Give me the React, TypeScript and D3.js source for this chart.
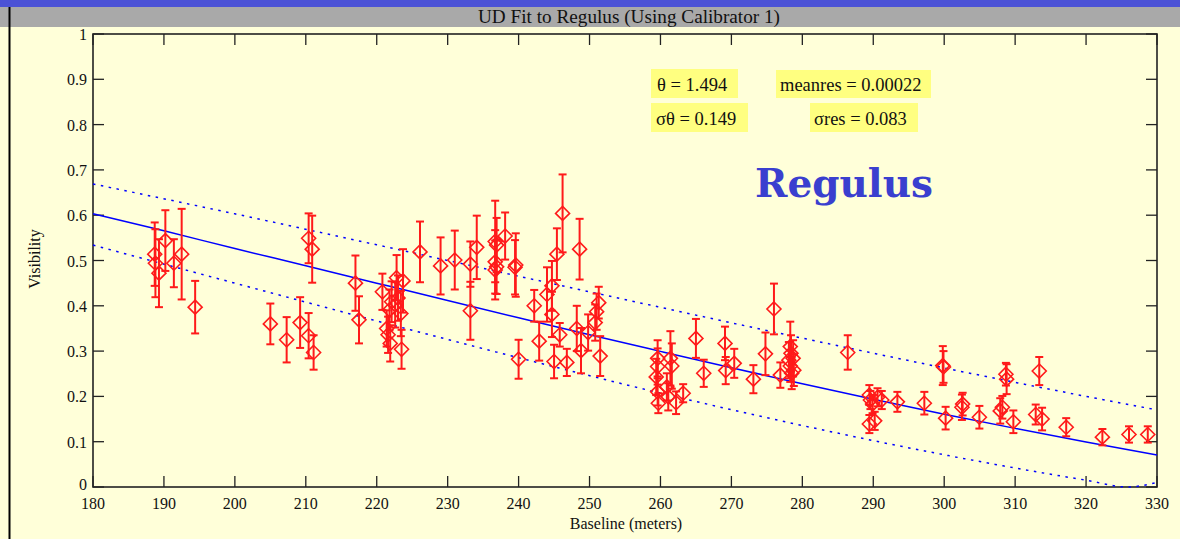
import React from "react";
import * as d3 from "d3";

// measured points: baseline (m), visibility, 1-sigma error
const baseline = [
  188.7, 188.8, 189.3, 190.2, 191.4, 192.5, 194.4,
  205.0, 207.3, 209.2, 210.4, 211.1, 210.4, 210.9,
  217.0, 217.5, 220.8, 221.4, 221.6, 221.8, 221.9, 222.1, 222.6, 222.8, 223.0, 223.4, 223.7, 223.5,
  226.1, 229.0, 231.0, 233.2, 233.2, 234.1, 236.7, 236.9, 236.7, 236.9, 236.7, 238.1, 239.6, 239.5,
  240.0, 242.2, 242.9, 244.0, 244.7, 244.7, 245.0, 245.4, 245.8, 246.2, 246.8, 248.6, 248.2, 248.8,
  249.8, 250.8, 251.0, 251.3, 251.5,
  259.6, 259.6, 259.4, 259.6, 259.7, 261.4, 261.6, 260.9, 261.1, 262.2, 263.2, 265.0, 266.1,
  269.1, 269.2, 270.4, 273.1, 274.8, 276.0, 276.9, 278.3, 278.4, 278.1, 278.7, 278.3, 278.8, 278.5,
  286.4, 289.45, 289.6, 289.9, 290.6, 291.2, 289.45, 290.2, 293.4, 297.2, 299.8, 299.9, 300.2,
  302.5, 302.6, 304.96, 307.9, 308.2, 308.7, 308.8, 309.75, 312.9, 313.8, 313.4, 317.2, 322.3,
  326.05, 328.7,
];
const visibility = [
  0.514, 0.494, 0.472, 0.544, 0.494, 0.514, 0.397,
  0.36, 0.325, 0.363, 0.334, 0.297, 0.549, 0.525,
  0.45, 0.369, 0.431, 0.35, 0.336, 0.391, 0.317, 0.409, 0.402, 0.462, 0.417, 0.383, 0.455, 0.304,
  0.519, 0.488, 0.501, 0.492, 0.389, 0.529, 0.542, 0.534, 0.497, 0.486, 0.479, 0.554, 0.49, 0.485,
  0.282, 0.4, 0.322, 0.425, 0.444, 0.381, 0.277, 0.514, 0.336, 0.604, 0.275, 0.525, 0.35, 0.301,
  0.341, 0.363, 0.387, 0.407, 0.289,
  0.284, 0.266, 0.243, 0.21, 0.185, 0.284, 0.267, 0.221, 0.199, 0.186, 0.207, 0.328, 0.251,
  0.317, 0.257, 0.273, 0.238, 0.294, 0.393, 0.247, 0.31, 0.295, 0.28, 0.284, 0.267, 0.258, 0.251,
  0.297, 0.203, 0.192, 0.183, 0.198, 0.192, 0.139, 0.146, 0.188, 0.185, 0.268, 0.265, 0.152,
  0.176, 0.183, 0.154, 0.168, 0.176, 0.249, 0.238, 0.144, 0.16, 0.15, 0.256, 0.132, 0.11,
  0.116, 0.116,
];
const visErr = [
  0.07, 0.075, 0.075, 0.067, 0.053, 0.1, 0.058,
  0.045, 0.05, 0.056, 0.05, 0.038, 0.055, 0.074,
  0.061, 0.052, 0.04, 0.04, 0.04, 0.045, 0.04, 0.045, 0.05, 0.05, 0.05, 0.05, 0.07, 0.043,
  0.067, 0.063, 0.065, 0.05, 0.064, 0.07, 0.09, 0.06, 0.07, 0.06, 0.065, 0.052, 0.07, 0.06,
  0.043, 0.035, 0.043, 0.06, 0.055, 0.05, 0.037, 0.057, 0.026, 0.086, 0.03, 0.067, 0.05, 0.05,
  0.04, 0.04, 0.04, 0.035, 0.044,
  0.04, 0.04, 0.04, 0.03, 0.022, 0.06, 0.05, 0.03, 0.03, 0.025, 0.02, 0.043, 0.03,
  0.037, 0.03, 0.032, 0.031, 0.047, 0.056, 0.028, 0.055, 0.04, 0.04, 0.04, 0.035, 0.035, 0.035,
  0.038, 0.022, 0.02, 0.02, 0.02, 0.02, 0.02, 0.02, 0.022, 0.025, 0.043, 0.035, 0.025,
  0.028, 0.025, 0.025, 0.028, 0.025, 0.025, 0.033, 0.025, 0.022, 0.025, 0.031, 0.02, 0.018,
  0.018, 0.018,
];

// uniform disk fit and its +/- sigma envelope
const fitB = [180, 190, 200, 210, 220, 230, 240, 250, 260, 270, 280, 290, 300, 310, 320, 330];
const fitV = [0.603, 0.5655, 0.5264, 0.4885, 0.45, 0.4116, 0.3736, 0.336, 0.2994, 0.2632, 0.2278, 0.1938, 0.1608, 0.1294, 0.0994, 0.0708];
const upperB = [180, 200, 220, 240, 260, 280, 300, 320, 330];
const upperV = [0.669, 0.603, 0.5346, 0.4654, 0.3966, 0.3286, 0.2628, 0.2001, 0.1703];
const lowerB = [180, 200, 220, 240, 260, 280, 300, 310, 320, 325.8, 330];
const lowerV = [0.534, 0.45, 0.3666, 0.2854, 0.2073, 0.1357, 0.0711, 0.0419, 0.015, 0, 0.01];

const xTicks = d3.range(180, 331, 10);
const yTicks = [0, 0.1, 0.2, 0.3, 0.4, 0.5, 0.6, 0.7, 0.8, 0.9, 1];

const W = 1180;
const H = 539;
const m = { left: 93, right: 1157, top: 34, bottom: 487 };
const serif = "'Liberation Serif', 'Times New Roman', serif";

export default function App() {
  const x = d3.scaleLinear().domain([180, 330]).range([m.left, m.right]);
  const y = d3.scaleLinear().domain([0, 1]).range([m.bottom, m.top]);

  const line = d3
    .line<[number, number]>()
    .x((d) => x(d[0]))
    .y((d) => y(d[1]))
    .curve(d3.curveMonotoneX);

  const fitPath = line(fitB.map((b, i) => [b, fitV[i]]));
  const upPath = line(upperB.map((b, i) => [b, upperV[i]]));
  const loPath = line(lowerB.map((b, i) => [b, lowerV[i]]));

  const tick = 11;
  const ds = 7; // diamond half size
  const cap = 4;

  return (
    <svg
      width={W}
      height={H}
      style={{ position: "absolute", left: 0, top: 0, display: "block" }}
      fontFamily={serif}
    >
      <rect x={0} y={0} width={W} height={H} fill="#ffffd9" />
      {/* window bars */}
      <rect x={0} y={0} width={W} height={7} fill="#4b52d6" />
      <rect x={0} y={7} width={W} height={20} fill="#a9a9a9" />
      <line x1={9.5} y1={7} x2={9.5} y2={H} stroke="#000" strokeWidth={2} />
      <text x={629} y={23} textAnchor="middle" fontSize={18} textLength={302} lengthAdjust="spacingAndGlyphs" fill="#111">
        UD Fit to Regulus (Using Calibrator 1)
      </text>

      {/* frame */}
      <rect
        x={m.left}
        y={m.top}
        width={m.right - m.left}
        height={m.bottom - m.top}
        fill="none"
        stroke="#222"
        strokeWidth={1.6}
      />
      {xTicks.map((t) => (
        <g key={"x" + t}>
          <line x1={x(t)} x2={x(t)} y1={m.bottom} y2={m.bottom - tick} stroke="#222" strokeWidth={1.3} />
          <line x1={x(t)} x2={x(t)} y1={m.top} y2={m.top + tick} stroke="#222" strokeWidth={1.3} />
          <text x={x(t)} y={m.bottom + 22} textAnchor="middle" fontSize={16} fill="#111">
            {t}
          </text>
        </g>
      ))}
      {yTicks.map((t) => (
        <g key={"y" + t}>
          <line x1={m.left} x2={m.left + tick} y1={y(t)} y2={y(t)} stroke="#222" strokeWidth={1.3} />
          <line x1={m.right} x2={m.right - tick} y1={y(t)} y2={y(t)} stroke="#222" strokeWidth={1.3} />
          <text x={m.left - 6} y={y(t) + (t === 0 ? 3 : 6)} textAnchor="end" fontSize={16} fill="#111">
            {t === 0 ? "0" : t === 1 ? "1" : t.toFixed(1)}
          </text>
        </g>
      ))}
      <text x={626} y={529} textAnchor="middle" fontSize={16} fill="#111">
        Baseline (meters)
      </text>
      <text transform="translate(40,259) rotate(-90)" textAnchor="middle" fontSize={16} fill="#111">
        Visibility
      </text>

      {/* model curves */}
      <path d={upPath ?? ""} fill="none" stroke="#0000ff" strokeWidth={1.5} strokeDasharray="2.5,5.5" />
      <path d={loPath ?? ""} fill="none" stroke="#0000ff" strokeWidth={1.5} strokeDasharray="2.5,5.5" />
      <path d={fitPath ?? ""} fill="none" stroke="#0000ff" strokeWidth={1.5} />

      {/* data with error bars */}
      <g stroke="#ff1a1a" fill="none">
        {baseline.map((b, i) => {
          const cx = x(b);
          const cy = y(visibility[i]);
          const y0 = y(visibility[i] - visErr[i]);
          const y1 = y(visibility[i] + visErr[i]);
          return (
            <g key={i}>
              <line x1={cx} x2={cx} y1={y0} y2={y1} strokeWidth={2} />
              <line x1={cx - cap} x2={cx + cap} y1={y0} y2={y0} strokeWidth={2} />
              <line x1={cx - cap} x2={cx + cap} y1={y1} y2={y1} strokeWidth={2} />
              <path
                d={`M${cx},${cy - ds}L${cx + ds},${cy}L${cx},${cy + ds}L${cx - ds},${cy}Z`}
                strokeWidth={1.6}
              />
            </g>
          );
        })}
      </g>

      {/* fit statistics */}
      <rect x={651} y={69} width={87} height={29} fill="#ffff80" />
      <rect x={776} y={70} width={155} height={28} fill="#ffff80" />
      <rect x={651} y={103} width={97} height={29} fill="#ffff80" />
      <rect x={810} y={103} width={108} height={29} fill="#ffff80" />
      <g fontSize={18.5} fill="#111">
        <text x={657} y={91}>θ = 1.494</text>
        <text x={780} y={91}>meanres = 0.00022</text>
        <text x={656} y={125}>σθ = 0.149</text>
        <text x={814} y={125}>σres = 0.083</text>
      </g>
      <text
        x={755}
        y={197}
        fontFamily="'DejaVu Serif', serif"
        fontWeight="bold"
        fontSize={39}
        fill="#3a3fcf"
      >
        Regulus
      </text>
    </svg>
  );
}
